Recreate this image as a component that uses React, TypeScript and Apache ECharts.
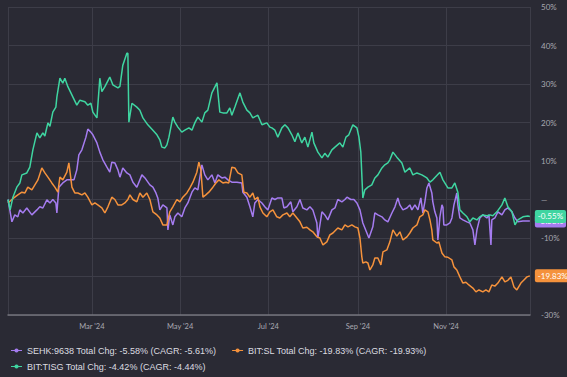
import React, { useEffect, useRef } from "react";
import * as echarts from "echarts";

// Day offsets from 2024-01-01 paired with total change (%)
const sehk: [number, number][] = [
  [2, 0], [4.7, -5.8], [6.7, -4], [8.8, -4.5], [10.2, -2.7], [12.3, -3.5], [15, -2.2], [18.5, -4], [22, -2.7], [24, -1.9],
  [26.1, -2.2], [28.9, -0.1], [31, -0.9], [33, 0], [35.1, -0.9], [35.8, -3.5], [37.2, 3.2], [39.9, 4.3], [42.7, 5.1], [44.8, 5.1],
  [47.6, 5.1], [49.6, 7.7], [51, 11.6], [53.1, 12.9], [55.9, 16.2], [57.2, 18.3], [59.3, 17.5], [60.7, 16.8], [63.5, 14.7], [65.5, 12.3],
  [67.6, 10.3], [70.4, 8.4], [72.4, 7.1], [73.8, 9.7], [75.9, 9.5], [78, 7.7], [79.4, 5.8], [81.4, 8.2], [84.2, 6.9], [86.3, 6.4],
  [88.4, 4.5], [91.1, 3.2], [94.6, 6.4], [96.7, 5.6], [100.1, 3.8], [102.2, 3.2], [104.3, 1.7], [105.6, 0.4], [107, -2.7], [109.1, -1.4],
  [111.9, -2.2], [112.6, -7.9], [113.9, -4], [116, -6.6], [117.4, -4.5], [119.5, -3.5], [122.2, -4.5], [124.3, -2.2], [126.4, -0.9], [129.2, 1.9],
  [131.2, 3], [133.3, 2.5], [136.1, 9], [138.1, 6.4], [140.2, 5.1], [143, 6.4], [145.1, 4.3], [147.1, 6.4], [149.9, 5.6], [152, 5.8],
  [154.1, 5.1], [156.8, 4.5], [160.3, 4.5], [163.7, 4.3], [164.4, 1.9], [167.2, 0.6], [169.3, -1.9], [171.3, -4.5], [172.7, -0.9], [174.8, 0],
  [177.6, -0.9], [179.6, -1.9], [181.7, -2.7], [184.5, 0.4], [186.6, 0], [188.6, 0.4], [191.4, 0.4], [192.8, -2.2], [194.9, -1.9], [197.6, -0.6],
  [199, -3.2], [201.8, -1.9], [203.9, 0], [205.9, -2.2], [208.7, -2.7], [210.8, -1.9], [212.8, -2.7], [215.6, -6.1], [216.3, -10], [219.1, -3.2],
  [221.1, -4], [223.2, -5.3], [226, -2.7], [228.1, -2.2], [230.1, 0], [232.9, -0.6], [235, 0], [236.4, 0.6], [239.1, 0], [241.2, 0],
  [243.3, -0.9], [245.4, -2.7], [247.4, -6.1], [250.2, -8.7], [251.6, -10], [254.3, -7.1], [255.7, -3.5], [257.8, -4], [260.6, -4.5], [262.6, -5.3],
  [264.7, -5.8], [267.5, -3.5], [269.6, -1.9], [271.6, 0.4], [273, -1.4], [275.1, -2.7], [277.9, -2.2], [279.9, -1.4], [281.3, -2.7], [283.4, -1.4],
  [285.5, -2.7], [287.5, 0.4], [288.9, -3.5], [290.3, -0.6], [291.7, 3], [293.1, 4.3], [295.1, 1.7], [295.8, -0.6], [297.2, -3.2], [298.6, -4.8],
  [299.3, -10.5], [300.7, -4.5], [302.1, -1.4], [302.8, -2], [303.4, -6.6], [305.5, -6.6], [307.6, -6.1], [309, -4.8], [310.4, -1.4], [312.4, 1.7],
  [313.1, -1.4], [314.5, -4.8], [316.6, -5.3], [319.4, -5.8], [321.4, -6.1], [323.5, -7.9], [324.9, -11.8], [326.3, -7.9], [328.3, -4.8], [330.4, -4],
  [333.2, -4.8], [334.6, -4], [336, -11.8], [336.6, -5.3], [338.7, -4.8], [340.8, -3.2], [343.6, -4], [345.6, -2.7], [347.7, -2.2], [350.5, -3.2],
  [352.6, -4.8], [354.6, -5.8], [358.1, -5.6], [362.9, -5.6],
];

const sl: [number, number][] = [
  [2, -0.9], [4.7, 0], [6.7, 0.6], [8.8, 1.2], [11.6, 1.9], [13.7, 1.7], [15.7, 3.2], [18.5, 2.5], [20.6, 3.8], [22.7, 5.1],
  [25.4, 8.2], [27.5, 6.9], [29.6, 5.8], [32.3, 4.3], [34.4, 3.2], [36.5, 1.9], [37.9, 5.8], [39.9, 5.1], [42.7, 7.1], [44.1, 9.5],
  [46.2, 3.2], [48.2, 1.7], [50.3, 1.7], [53.1, 1.2], [55.2, 1.7], [57.2, 0.6], [60, -1.4], [62.1, -0.9], [64.1, -1.4], [66.9, -2.2],
  [69, -3.5], [71.1, -1.9], [73.8, 0.6], [75.9, 0], [78, -1.4], [80.7, -1.4], [82.8, -0.9], [84.9, 0], [86.3, 1.2], [88.4, 0],
  [91.1, -0.6], [93.2, 1.7], [95.3, 0.6], [98, 1.7], [100.1, 0], [102.2, -3.2], [105, -4], [107, -4.8], [109.1, -6.6], [111.9, -6.6],
  [113.9, -3.2], [116, -1.9], [118.8, 0], [120.9, -0.6], [122.9, 0.6], [125.7, 1.7], [127.8, 3], [129.9, 4.5], [132.6, 7.1], [134, 9.7],
  [135.4, 7.7], [136.8, 0.6], [138.8, 1.2], [140.9, 1.9], [143.7, 3.2], [145.8, 4.3], [147.8, 5.1], [150.6, 4.3], [152.7, 4.5], [154.7, 4.3],
  [156.8, 8.4], [158.9, 8.2], [161, 6.9], [163.7, 6.4], [165.1, 1.9], [167.2, 1.7], [169.3, 0.6], [171.3, 1.7], [172.7, 0], [174.8, 0.6],
  [176.2, -1.9], [178.3, -3.5], [181, -4.5], [183.1, -3.2], [185.2, -2.7], [187.9, -4.5], [190, -4.8], [192.1, -4], [194.9, -3.5], [196.9, -4.5],
  [199, -3.5], [201.8, -4.8], [203.9, -5.8], [205.9, -7.4], [208.7, -7.2], [210.8, -7.9], [212.8, -8.4], [215.6, -9.7], [217.7, -10], [219.8, -11.8],
  [222.5, -11], [224.6, -9.2], [226.7, -8.7], [230.1, -7.4], [232.9, -7.9], [235, -6.6], [237.1, -7.1], [239.8, -6.6], [241.9, -7.1], [244, -7.4],
  [245.4, -10], [246.7, -14.9], [247.4, -16.5], [249.5, -16.2], [250.9, -16.5], [252.3, -18.3], [254.3, -17], [255.7, -15.2], [257.8, -15.2], [259.9, -17],
  [261.3, -13.6], [264, -13.1], [266.1, -11], [268.2, -7.9], [270.9, -9.5], [273, -8.4], [275.1, -10.5], [277.9, -9.7], [279.9, -8.7], [282, -7.4],
  [284.8, -6.6], [286.8, -4.5], [288.9, -4], [290.3, -2.7], [292.4, -3.2], [293.8, -5.3], [295.1, -7.9], [295.8, -10.5], [298.6, -11.3], [300, -11],
  [302.1, -13.9], [304.1, -14.9], [306.2, -15], [309, -15.7], [310.4, -17.5], [312.4, -18.3], [314.5, -20.1], [316.6, -21.7], [318.7, -21.5], [320.7, -22.2],
  [323.5, -23], [325.6, -24], [327.7, -23.5], [330.4, -24], [332.5, -23.5], [334.6, -24], [336.6, -22.2], [338.7, -22.5], [340.8, -21.7], [343.6, -20.1],
  [345.6, -21.4], [347.7, -21], [349.8, -20.1], [351.9, -22.7], [353.9, -23.5], [356.7, -21.7], [358.8, -20.9], [360.9, -20.1], [362.9, -19.83],
];

const tisg: [number, number][] = [
  [2, 0], [3.5, -2.7], [5.4, 0.6], [8.1, 3.2], [10.2, 4.3], [11.6, 6.4], [15, 6.9], [17.1, 8.4], [19.2, 12.9], [22, 17.3],
  [24, 16], [26.1, 17.3], [27.5, 16.5], [29.6, 19.9], [31, 19], [33, 22.7], [35.1, 24], [35.8, 26.6], [37.9, 31.5], [39.9, 30.2],
  [41.3, 31.5], [43.4, 29.3], [45.5, 27.7], [46.9, 26.6], [49.6, 24.5], [51.7, 25.8], [55.2, 25.4], [57.2, 24.5], [59.3, 25], [60.7, 22.7],
  [63.5, 21.2], [65.5, 31.5], [66.9, 28], [69, 29.3], [72.4, 31.8], [74.5, 29.8], [78, 29], [79.4, 29.4], [81.4, 34.9], [84.2, 38],
  [84.9, 38], [85.6, 20.1], [87.7, 25], [91.1, 24], [93.2, 23.2], [95.3, 21.2], [98.7, 19.4], [102.2, 18], [105, 16.8], [107, 15.5],
  [108.4, 13.6], [110.5, 13.4], [111.9, 14.2], [113.3, 16.2], [116, 21.4], [117.4, 20.1], [119.5, 18.8], [122.2, 17.5], [124.3, 18], [127.1, 18.6],
  [129.2, 18], [131.2, 19.9], [133.3, 21.4], [136.1, 20.1], [138.1, 22.5], [140.2, 23.2], [143, 27.7], [146.5, 30.3], [148.5, 22.7], [150.6, 22.5],
  [153.4, 22.5], [155.4, 23.8], [156.8, 21.9], [158.9, 24], [162.4, 27.7], [164.4, 25.3], [167.2, 23.2], [169.3, 22.5], [171.3, 21.2], [174.8, 21.9],
  [177.6, 19.4], [181, 19.9], [183.1, 18.8], [184.5, 18.6], [186.6, 18], [188.6, 16.2], [191.4, 18.6], [193.5, 19.4], [195.6, 18.6], [198.3, 16.8],
  [200.4, 15], [202.5, 17.3], [205.2, 14.7], [207.3, 16.2], [209.4, 13.6], [212.2, 17.5], [213.5, 14.7], [216.3, 12.3], [219.1, 10.8], [221.1, 12],
  [223.2, 11], [226, 12.9], [228.1, 13.6], [231.5, 14.7], [233.6, 13.6], [235.7, 16.2], [237.7, 16.8], [240.5, 19.4], [243.3, 18.6], [244.7, 16.2],
  [246, 12.3], [247.4, 0.4], [248.8, 2.5], [250.9, 3.2], [253.6, 3.8], [255.7, 5.6], [257.8, 6.4], [260.6, 8.2], [262.6, 9], [264.7, 9.5],
  [266.1, 10.3], [268.2, 12.3], [270.9, 11], [274.4, 9.5], [276.5, 7.1], [279.9, 8.2], [282, 6.4], [284.8, 6.9], [288.2, 6.4], [291.7, 5.6],
  [293.8, 4.5], [295.8, 5.1], [300.7, 7.1], [302.8, 5.1], [306.2, 3], [309, 3], [311, 4.3], [313.1, 1.9], [314.5, -2.7], [316.6, -3.5],
  [319.4, -4.5], [321.4, -5.8], [323.5, -4.8], [326.3, -5.3], [328.3, -4.5], [330.4, -4], [333.2, -4.2], [335.3, -4], [337.3, -4.2], [340.1, -3.2],
  [343.6, -1.4], [345.6, 0.4], [347.7, -1.9], [350.5, -3.2], [352.6, -6.6], [354.6, -5.3], [358.1, -4.5], [361.5, -4.3], [362.9, -4.4],
];

const seriesNames = [
  "SEHK:9638 Total Chg: -5.58% (CAGR: -5.61%)",
  "BIT:SL Total Chg: -19.83% (CAGR: -19.93%)",
  "BIT:TISG Total Chg: -4.42% (CAGR: -4.44%)",
];
const endLabels = ["-5.58%", "-19.83%", "-0.55%"];
const colors = ["#a57cf0", "#f5923c", "#3fd5a1"];
const monthNames = ["Jan", "Feb", "Mar", "Apr", "May", "Jun", "Jul", "Aug", "Sep", "Oct", "Nov", "Dec"];
// y tick value hidden in the reference behind the end-value badge
const hiddenYTicks = [-20];

const BASE = Date.UTC(2024, 0, 1);
const DAY = 86400000;
const X_MIN_DAY = 2;
const X_MAX_DAY = 363;

const toData = (pairs: [number, number][]) => pairs.map(([d, v]) => [BASE + d * DAY, v]);

const legendIcon = "path://M0,3.3H16V4.7H0Z M8,1A3,3 0 1,1 7.99,1Z";

export default function App() {
  const ref = useRef<HTMLDivElement>(null);
  useEffect(() => {
    if (!ref.current) return;
    const chart = echarts.init(ref.current, null, { renderer: "svg" });
    const datasets = [sehk, sl, tisg];
    const series = datasets.map((pairs, i) => ({
      name: seriesNames[i],
      type: "line",
      data: toData(pairs),
      showSymbol: false,
      symbol: "circle",
      lineStyle: { width: 1.5, color: colors[i] },
      itemStyle: { color: colors[i] },
      z: i === 2 ? 4 : 3,
      endLabel: {
        show: true,
        formatter: () => endLabels[i],
        backgroundColor: colors[i],
        color: "#ffffff",
        fontSize: 8,
        fontFamily: "Lato, 'Liberation Sans', Arial, sans-serif",
        padding: [3, 3, 2, 3],
        borderRadius: 2,
        distance: 5,
      },
    }));
    chart.setOption({
      animation: false,
      useUTC: true,
      backgroundColor: "#2a2a34",
      grid: { left: 8, right: 37, top: 7, bottom: 62, containLabel: false },
      legend: [
        {
          data: [seriesNames[0], seriesNames[1]],
          left: 11,
          top: 346,
          padding: 0,
          itemGap: 16,
          itemWidth: 11,
          itemHeight: 6,
          icon: legendIcon,
          textStyle: { color: "#dcdce0", fontSize: 9, fontFamily: "'Liberation Sans', Arial, sans-serif" },
        },
        {
          data: [seriesNames[2]],
          left: 11,
          top: 362,
          padding: 0,
          itemWidth: 11,
          itemHeight: 6,
          icon: legendIcon,
          textStyle: { color: "#dcdce0", fontSize: 9, fontFamily: "'Liberation Sans', Arial, sans-serif" },
        },
      ],
      xAxis: {
        type: "time",
        min: BASE + X_MIN_DAY * DAY,
        max: BASE + X_MAX_DAY * DAY,
        splitNumber: 5,
        axisLine: { show: true, onZero: false, lineStyle: { color: "#74747c", width: 1.5 } },
        axisTick: { show: false },
        splitLine: { show: true, lineStyle: { color: "#3d3d48", width: 1 } },
        axisLabel: {
          color: "#a8a8b0",
          fontSize: 7.5,
          margin: 7,
          fontFamily: "Lato, 'Liberation Sans', Arial, sans-serif",
          showMinLabel: false,
          showMaxLabel: false,
          formatter: (val: number) => {
            const d = new Date(val);
            return monthNames[d.getUTCMonth()] + " '" + String(d.getUTCFullYear()).slice(2);
          },
        },
      },
      yAxis: {
        type: "value",
        position: "right",
        min: -30,
        max: 50,
        interval: 10,
        axisLine: { show: false },
        axisTick: { show: false },
        splitLine: { show: true, lineStyle: { color: "#3d3d48", width: 1 } },
        axisLabel: {
          color: "#a8a8b0",
          fontSize: 8,
          margin: 11,
          fontFamily: "Lato, 'Liberation Sans', Arial, sans-serif",
          formatter: (v: number) => (hiddenYTicks.includes(v) ? "" : v === 0 ? "—" : v + "%"),
        },
      },
      series,
    });
    return () => chart.dispose();
  }, []);
  return <div ref={ref} style={{ width: 567, height: 377, position: "fixed", left: 0, top: 0 }} />;
}
